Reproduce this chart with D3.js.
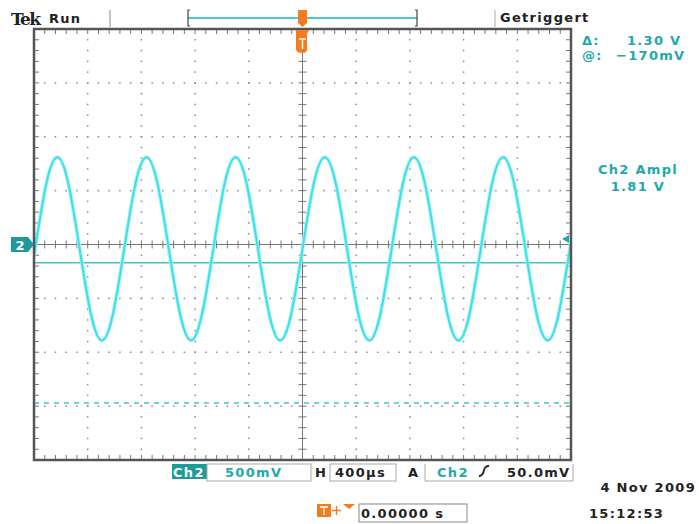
<!DOCTYPE html>
<html>
<head>
<meta charset="utf-8">
<title>Tek scope Ch2</title>
<script src="https://d3js.org/d3.v7.min.js"></script>
<style>
body { margin: 0; padding: 0; background: white; }
svg { display: block; font-family: "DejaVu Sans", Verdana, sans-serif; }
.lbl { font-size: 13px; font-weight: bold; letter-spacing: 1.3px; }
</style>
</head>
<body>
<svg id="scope" width="699" height="524"></svg>
<script>
// waveform samples: time (us, 0 = trigger) and Ch2 volts
var times = [-2075,-1992,-1909,-1826,-1743,-1660,-1577,-1494,-1411,-1328,-1245,-1162,-1079,-996,-913,-830,-747,-664,-581,-498,-415,-332,-249,-166,-83,
  0,83,166,249,332,415,498,581,664,747,830,913,996,1079,1162,1245,1328,1411,1494,1577,1660,1743,1826,1909,1992,2075];
var volts = [-0.64,-0.04,0.56,0.81,0.56,-0.04,-0.64,-0.89,-0.64,-0.04,0.56,0.81,0.56,-0.04,-0.64,-0.89,-0.64,-0.04,0.56,0.81,0.56,-0.04,-0.64,-0.89,-0.64,
  -0.04,0.56,0.81,0.56,-0.04,-0.64,-0.89,-0.64,-0.04,0.56,0.81,0.56,-0.04,-0.64,-0.89,-0.64,-0.04,0.56,0.81,0.56,-0.04,-0.64,-0.89,-0.64,-0.04,0.56];
var cursorLevels = [-0.17, -1.47];   // V, cursor 1 solid, cursor 2 dashed
var trigLevel = 0.05;                // V
var voltsPerDiv = 0.5, usPerDiv = 400;

var teal = "#22a8aa", trace = "#3ee0e8", grid = "#8a8a8a", frameCol = "#555";

var svg = d3.select("#scope");
var pL = 34, pR = 571, pT = 29, pB = 460;

var x = d3.scaleLinear().domain([-5 * usPerDiv, 5 * usPerDiv]).range([pL, pR]);
var y = d3.scaleLinear().domain([-4 * voltsPerDiv, 4 * voltsPerDiv]).range([pB, pT]);

// graticule dots
var g = svg.append("g");
var xMaj = d3.range(-4, 5).map(function(d) { return d * usPerDiv; });
var yMaj = d3.range(-3, 4).map(function(d) { return d * voltsPerDiv; });
var xMin = d3.range(-25, 26).map(function(d) { return d * usPerDiv / 5; });
var yMin = d3.range(-20, 21).map(function(d) { return d * voltsPerDiv / 5; });

xMaj.filter(function(t) { return t !== 0; }).forEach(function(t) {
  g.selectAll(null).data(yMin.slice(1, -1)).enter().append("rect")
    .attr("x", x(t) - 0.75).attr("y", function(v) { return y(v) - 0.75; })
    .attr("width", 1.5).attr("height", 1.5).attr("fill", grid);
});
yMaj.filter(function(v) { return v !== 0; }).forEach(function(v) {
  g.selectAll(null).data(xMin.slice(1, -1)).enter().append("rect")
    .attr("x", function(t) { return x(t) - 0.75; }).attr("y", y(v) - 0.75)
    .attr("width", 1.5).attr("height", 1.5).attr("fill", grid);
});

// centre cross with ticks
g.append("line").attr("x1", pL).attr("x2", pR).attr("y1", y(0)).attr("y2", y(0))
  .attr("stroke", "#777").attr("stroke-width", 1);
g.append("line").attr("x1", x(0)).attr("x2", x(0)).attr("y1", pT).attr("y2", pB)
  .attr("stroke", "#777").attr("stroke-width", 1);
g.selectAll(null).data(xMin.slice(1, -1)).enter().append("line")
  .attr("x1", function(t) { return x(t); }).attr("x2", function(t) { return x(t); })
  .attr("y1", y(0) - 4).attr("y2", y(0) + 4).attr("stroke", "#777");
g.selectAll(null).data(yMin.slice(1, -1)).enter().append("line")
  .attr("y1", function(v) { return y(v); }).attr("y2", function(v) { return y(v); })
  .attr("x1", x(0) - 4).attr("x2", x(0) + 4).attr("stroke", "#777");

// border ticks
g.selectAll(null).data(xMin.slice(1, -1)).enter().append("line")
  .attr("x1", function(t) { return x(t); }).attr("x2", function(t) { return x(t); })
  .attr("y1", pT).attr("y2", pT + 5).attr("stroke", "#777");
g.selectAll(null).data(xMin.slice(1, -1)).enter().append("line")
  .attr("x1", function(t) { return x(t); }).attr("x2", function(t) { return x(t); })
  .attr("y1", pB).attr("y2", pB - 5).attr("stroke", "#777");
g.selectAll(null).data(yMin.slice(1, -1)).enter().append("line")
  .attr("y1", function(v) { return y(v); }).attr("y2", function(v) { return y(v); })
  .attr("x1", pL).attr("x2", pL + 5).attr("stroke", "#777");
g.selectAll(null).data(yMin.slice(1, -1)).enter().append("line")
  .attr("y1", function(v) { return y(v); }).attr("y2", function(v) { return y(v); })
  .attr("x1", pR).attr("x2", pR - 5).attr("stroke", "#777");

// cursors
svg.selectAll(".cursor").data(cursorLevels).enter().append("line")
  .attr("class", "cursor")
  .attr("x1", pL).attr("x2", pR)
  .attr("y1", function(v) { return y(v); }).attr("y2", function(v) { return y(v); })
  .attr("stroke", "#3cc6cb").attr("stroke-width", 1.5)
  .attr("stroke-dasharray", function(v, i) { return i ? "5,5" : null; });

// waveform
svg.append("clipPath").attr("id", "clip").append("rect")
  .attr("x", pL).attr("y", pT).attr("width", pR - pL).attr("height", pB - pT);
var pts = times.map(function(t, i) { return [t, volts[i]]; });
var line = d3.line().x(function(d) { return x(d[0]); }).y(function(d) { return y(d[1]); })
  .curve(d3.curveNatural);
var wg = svg.append("g").attr("clip-path", "url(#clip)");
wg.append("path").attr("d", line(pts)).attr("fill", "none")
  .attr("stroke", "#a6f2f5").attr("stroke-width", 3.8);
wg.append("path").attr("d", line(pts)).attr("fill", "none")
  .attr("stroke", trace).attr("stroke-width", 2);

// frame
svg.append("path")
  .attr("d", "M" + pL + "," + pB + "V" + pT + "H" + pR + "V" + pB + "Z")
  .attr("fill", "none").attr("stroke", frameCol).attr("stroke-width", 2.5);

// top status bar
svg.append("text").attr("x", 11).attr("y", 25).attr("font-size", 17).attr("font-weight", "bold")
  .attr("font-family", "DejaVu Serif, serif").attr("fill", "#222").attr("letter-spacing", -1.6).text("Tek");
svg.append("text").attr("class", "lbl").attr("x", 49).attr("y", 23).attr("fill", "#222").text("Run");
svg.append("line").attr("x1", 110).attr("x2", 110).attr("y1", 10).attr("y2", 27).attr("stroke", "#888");
svg.append("line").attr("x1", 495).attr("x2", 495).attr("y1", 10).attr("y2", 27).attr("stroke", "#aaa");
svg.append("text").attr("class", "lbl").attr("x", 500).attr("y", 22).attr("fill", "#222").text("Getriggert");
svg.append("line").attr("x1", 188).attr("x2", 417).attr("y1", 18).attr("y2", 18)
  .attr("stroke", "#4cc9cc").attr("stroke-width", 2);
svg.append("path").attr("d", "M190,10H188V26H190M415,10H417V26H415")
  .attr("fill", "none").attr("stroke", "#444").attr("stroke-width", 1.2);

// trigger position markers (orange)
var orange = "#f47c1e";
svg.append("path").attr("d", "M298,10H307V23L302.5,27L298,23Z").attr("fill", orange);
svg.append("path").attr("d", "M296,30H309L307,34V49Q307,53 302.5,53Q296,53 296,49Z").attr("fill", orange);
svg.append("path").attr("d", "M299,39H306M302.5,39V49").attr("stroke", "white").attr("stroke-width", 1.4);

// ground marker "2"
svg.append("path").attr("d", "M11,237H28L34," + y(0) + "L28,252H11Z").attr("fill", "#1f9a9a");
svg.append("text").attr("x", 20).attr("y", y(0) + 5).attr("font-size", 13).attr("font-weight", "bold")
  .attr("fill", "white").attr("text-anchor", "middle").text("2");

// trigger level arrow
svg.append("path").attr("d", "M562," + y(trigLevel) + "L569," + (y(trigLevel) - 4) + "V" + (y(trigLevel) + 4) + "Z")
  .attr("fill", teal);

// cursor readouts
var rt = svg.append("g").attr("fill", teal);
rt.append("text").attr("class", "lbl").attr("x", 582).attr("y", 45).text("\u0394:");
rt.append("text").attr("class", "lbl").attr("x", 627).attr("y", 45).text("1.30 V");
rt.append("text").attr("class", "lbl").attr("x", 582).attr("y", 60).text("@:");
rt.append("text").attr("class", "lbl").attr("x", 616).attr("y", 60).text("\u2212170mV");
rt.append("text").attr("class", "lbl").attr("x", 638).attr("y", 174).attr("text-anchor", "middle").text("Ch2 Ampl");
rt.append("text").attr("class", "lbl").attr("x", 638).attr("y", 191).attr("text-anchor", "middle").text("1.81 V");

// bottom readouts
var b = svg.append("g");
b.append("rect").attr("x", 172).attr("y", 464).attr("width", 35).attr("height", 15).attr("fill", "#1f9a9a");
b.append("text").attr("class", "lbl").attr("x", 173).attr("y", 477).attr("fill", "white").text("Ch2");
b.append("rect").attr("x", 207).attr("y", 464).attr("width", 104).attr("height", 17)
  .attr("fill", "none").attr("stroke", "#aaa");
b.append("text").attr("class", "lbl").attr("x", 225).attr("y", 477).attr("fill", teal).text("500mV");
b.append("text").attr("class", "lbl").attr("x", 315).attr("y", 477).attr("fill", "#222").text("H");
b.append("rect").attr("x", 330).attr("y", 464).attr("width", 66).attr("height", 17)
  .attr("fill", "none").attr("stroke", "#aaa");
b.append("text").attr("class", "lbl").attr("x", 335).attr("y", 477).attr("fill", "#222").text("400\u00b5s");
b.append("text").attr("class", "lbl").attr("x", 408).attr("y", 477).attr("fill", "#222").text("A");
b.append("path").attr("d", "M425,464V481H573V464").attr("fill", "none").attr("stroke", "#aaa");
b.append("text").attr("class", "lbl").attr("x", 437).attr("y", 477).attr("fill", teal).text("Ch2");
b.append("path").attr("d", "M479,476Q483,476 484,470Q485,466 489,466").attr("fill", "none")
  .attr("stroke", "#222").attr("stroke-width", 1.8);
b.append("text").attr("class", "lbl").attr("x", 507).attr("y", 477).attr("fill", "#222").text("50.0mV");

b.append("rect").attr("x", 317).attr("y", 504).attr("width", 14).attr("height", 13).attr("fill", orange);
b.append("path").attr("d", "M320,507H328M324,507V515").attr("stroke", "white").attr("stroke-width", 1.3);
b.append("path").attr("d", "M332,510.5H341M336.5,506V515").attr("stroke", orange).attr("stroke-width", 1.4);
b.append("path").attr("d", "M343,504H355L349,509Z").attr("fill", orange);
b.append("rect").attr("x", 359).attr("y", 504).attr("width", 108).attr("height", 18)
  .attr("fill", "none").attr("stroke", "#888");
b.append("text").attr("class", "lbl").attr("x", 361).attr("y", 518).attr("fill", "#222").text("0.00000 s");
b.append("text").attr("class", "lbl").attr("x", 696).attr("y", 492).attr("text-anchor", "end").attr("fill", "#222").text("4 Nov 2009");
b.append("text").attr("class", "lbl").attr("x", 589).attr("y", 518).attr("fill", "#222").text("15:12:53");
</script>
</body>
</html>
